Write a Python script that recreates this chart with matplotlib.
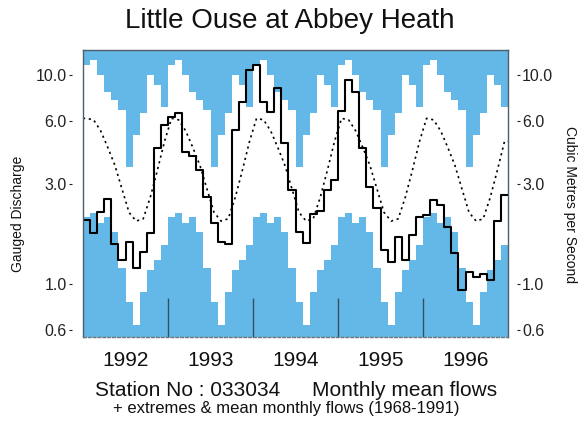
import numpy as np
import matplotlib
matplotlib.use("Agg")
import matplotlib.pyplot as plt
from matplotlib.ticker import FixedLocator, FixedFormatter, NullLocator

# Station record: Little Ouse at Abbey Heath (033034)
years = [1992, 1993, 1994, 1995, 1996]

# Long-term monthly statistics (1968-1991), Jan..Dec, m3/s
max_flow = [11.2, 11.8, 10.0, 8.3, 7.6, 6.8, 3.64, 5.16, 6.58, 10.0, 8.96, 7.05]
min_flow = [2.10, 2.18, 1.95, 2.10, 1.78, 1.19, 0.82, 0.64, 0.92, 1.17, 1.30, 1.54]
mean_flow = [6.2, 6.1, 5.4, 4.5, 3.7, 2.85, 2.2, 2.0, 2.05, 2.6, 3.5, 4.8]

# Monthly mean flows, Jan..Dec, m3/s
flow_1992 = [2.02, 1.75, 2.22, 2.56, 1.55, 1.30, 1.59, 1.19, 1.43, 1.75, 4.46, 5.77]
flow_1993 = [6.3, 6.6, 4.3, 4.1, 3.5, 2.6, 1.95, 1.59, 1.55, 5.46, 7.46, 10.6]
flow_1994 = [11.2, 7.46, 6.68, 8.65, 4.71, 2.82, 1.78, 1.57, 2.16, 2.24, 2.82, 3.15]
flow_1995 = [6.7, 9.46, 8.33, 4.46, 2.92, 2.3, 1.45, 1.27, 1.68, 1.30, 1.72, 2.10]
flow_1996 = [2.15, 2.52, 2.39, 1.88, 1.40, 0.94, 1.14, 1.08, 1.12, 1.04, 2.0, 2.66]

y_tick_values = [0.6, 1.0, 3.0, 6.0, 10.0]
y_tick_labels = ["0.6", "1.0", "3.0", "6.0", "10.0"]

BLUE = "#63b8e7"
FRAME = "#4f5e69"

plt.rcParams["font.family"] = ["Liberation Sans", "DejaVu Sans"]

fig = plt.figure(figsize=(5.85, 4.26), dpi=100)
ax = fig.add_axes([83 / 585, 1 - 337 / 426, 425 / 585, 287.5 / 426])
ax.set_facecolor(BLUE)

n_years = len(years)
n_months = 12 * n_years
edges = np.arange(n_months + 1)

upper = np.tile(max_flow, n_years)
lower = np.tile(min_flow, n_years)
flows = np.concatenate([flow_1992, flow_1993, flow_1994, flow_1995, flow_1996])

# white envelope between historic monthly extremes
ax.fill_between(edges, np.append(lower, lower[-1]), np.append(upper, upper[-1]),
                step="post", color="white", lw=0, zorder=1)

# long-term monthly mean (dotted), plotted at mid-month
mean_all = np.tile(mean_flow, n_years)
mx = np.concatenate([[0], np.arange(n_months) + 0.5, [n_months]])
my = np.concatenate([[mean_all[0]], mean_all, [mean_all[-1]]])
ax.plot(mx, my, color="black", lw=1.2, linestyle=(0, (1.3, 2.2)), zorder=3)

# monthly mean flows as a step line
ax.plot(edges, np.append(flows, flows[-1]), drawstyle="steps-post",
        color="black", lw=1.5, zorder=4)

ax.set_yscale("log")
ax.set_ylim(0.5577, 13.24)
ax.set_xlim(0, n_months)

# y axis on both sides, ticks set slightly away from the frame
ax.yaxis.set_major_locator(FixedLocator(y_tick_values))
ax.yaxis.set_major_formatter(FixedFormatter(y_tick_labels))
ax.yaxis.set_minor_locator(NullLocator())
ax.tick_params(axis="y", which="major", left=True, right=True,
               labelleft=True, labelright=True, direction="out",
               length=2.2, width=0.8, pad=1.5, labelsize=11.5, colors="#222222")
ax.spines["left"].set_position(("outward", 8))
ax.spines["right"].set_position(("outward", 6.5))
ax.spines["left"].set_visible(False)
ax.spines["right"].set_visible(False)
ax.axvline(0, color=FRAME, lw=1.0, clip_on=False, zorder=6)
ax.axvline(n_months, color=FRAME, lw=1.0, clip_on=False, zorder=6)
ax.spines["top"].set_color(FRAME)
ax.spines["top"].set_linewidth(1.0)
ax.spines["bottom"].set_color("#6a7780")
ax.spines["bottom"].set_linewidth(1.0)
ax.spines["bottom"].set_linestyle((0, (2, 1.5)))
for s in ("top", "bottom"):
    ax.spines[s].set_zorder(6)

# year boundaries as tall inward ticks, year names centred on each year
ax.xaxis.set_major_locator(FixedLocator([12 * i for i in range(1, n_years)]))
ax.xaxis.set_major_formatter(FixedFormatter([""] * (n_years - 1)))
ax.xaxis.set_minor_locator(FixedLocator([12 * i + 6 for i in range(n_years)]))
ax.xaxis.set_minor_formatter(FixedFormatter([str(y) for y in years]))
ax.tick_params(axis="x", which="major", direction="in", length=28, width=1.0,
               color="#35515f", bottom=True, top=False)
ax.tick_params(axis="x", which="minor", length=0, pad=10, labelsize=15,
               labelcolor="#111111")

fig.text(290 / 585, 1 - 21 / 426, "Little Ouse at Abbey Heath",
         ha="center", va="center", fontsize=20, color="#111111")
fig.text(18 / 585, 1 - 214 / 426, "Gauged Discharge", rotation=90,
         ha="center", va="center", fontsize=10, color="#111111")
fig.text(570 / 585, 1 - 204 / 426, "Cubic Metres per Second", rotation=270,
         ha="center", va="center", fontsize=10, color="#111111")
fig.text(95 / 585, 1 - 391 / 426, "Station No : 033034",
         ha="left", va="center", fontsize=15, color="#111111")
fig.text(312 / 585, 1 - 391 / 426, "Monthly mean flows",
         ha="left", va="center", fontsize=15, color="#111111")
fig.text(113 / 585, 1 - 409 / 426, "+ extremes & mean monthly flows (1968-1991)",
         ha="left", va="center", fontsize=12, color="#111111")

fig.savefig("out.png", dpi=100)
